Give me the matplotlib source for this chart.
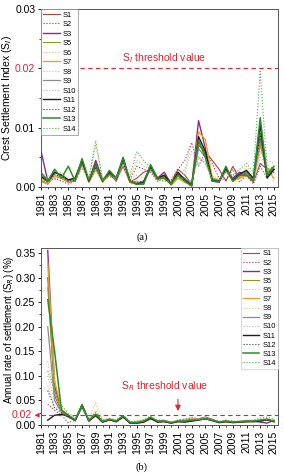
import numpy as np
import matplotlib
matplotlib.use('Agg')
import matplotlib.pyplot as plt
from matplotlib.ticker import MultipleLocator

plt.rcParams['font.family'] = ['Liberation Sans', 'DejaVu Sans']

# Data
labels = ['S1', 'S2', 'S3', 'S5', 'S6', 'S7', 'S8', 'S9', 'S10', 'S11', 'S12', 'S13', 'S14']
years_a = list(range(1981, 2016))
years_b = list(range(1982, 2016))

# crest settlement index (a)
si = {
    'S1': [0.0010, 0.0005, 0.0020, 0.0015, 0.0008, 0.0010, 0.0040, 0.0008, 0.0030, 0.0010, 0.0020, 0.0012, 0.0035, 0.0008, 0.0015, 0.0025, 0.0030, 0.0012, 0.0020, 0.0008, 0.0030, 0.0020, 0.0005, 0.0070, 0.0060, 0.0045, 0.0030, 0.0010, 0.0035, 0.0015, 0.0025, 0.0008, 0.0040, 0.0030, 0.0025],
    'S2': [0.0020, 0.0008, 0.0015, 0.0010, 0.0005, 0.0010, 0.0035, 0.0010, 0.0040, 0.0008, 0.0025, 0.0015, 0.0040, 0.0012, 0.0035, 0.0030, 0.0025, 0.0010, 0.0015, 0.0012, 0.0030, 0.0045, 0.0075, 0.0035, 0.0060, 0.0040, 0.0015, 0.0012, 0.0030, 0.0008, 0.0020, 0.0005, 0.0035, 0.0015, 0.0030],
    'S3': [0.0062, 0.0010, 0.0020, 0.0015, 0.0010, 0.0012, 0.0042, 0.0010, 0.0045, 0.0012, 0.0025, 0.0010, 0.0045, 0.0008, 0.0005, 0.0010, 0.0035, 0.0015, 0.0025, 0.0005, 0.0020, 0.0010, 0.0002, 0.0112, 0.0065, 0.0010, 0.0008, 0.0030, 0.0015, 0.0025, 0.0020, 0.0010, 0.0085, 0.0020, 0.0030],
    'S5': [0.0015, 0.0010, 0.0025, 0.0020, 0.0010, 0.0015, 0.0045, 0.0010, 0.0035, 0.0010, 0.0020, 0.0015, 0.0050, 0.0010, 0.0005, 0.0005, 0.0035, 0.0015, 0.0015, 0.0005, 0.0020, 0.0010, 0.0002, 0.0080, 0.0055, 0.0010, 0.0010, 0.0030, 0.0012, 0.0020, 0.0025, 0.0012, 0.0090, 0.0025, 0.0035],
    'S6': [0.0010, 0.0020, 0.0015, 0.0025, 0.0015, 0.0010, 0.0030, 0.0015, 0.0070, 0.0015, 0.0015, 0.0020, 0.0040, 0.0015, 0.0045, 0.0035, 0.0030, 0.0015, 0.0010, 0.0010, 0.0015, 0.0025, 0.0060, 0.0050, 0.0045, 0.0020, 0.0010, 0.0025, 0.0020, 0.0015, 0.0035, 0.0020, 0.0060, 0.0045, 0.0040],
    'S7': [0.0012, 0.0005, 0.0020, 0.0015, 0.0008, 0.0012, 0.0042, 0.0008, 0.0030, 0.0008, 0.0025, 0.0012, 0.0045, 0.0008, 0.0005, 0.0008, 0.0032, 0.0012, 0.0018, 0.0003, 0.0015, 0.0008, 0.0002, 0.0093, 0.0080, 0.0015, 0.0010, 0.0028, 0.0010, 0.0015, 0.0020, 0.0010, 0.0070, 0.0030, 0.0015],
    'S8': [0.0010, 0.0008, 0.0018, 0.0020, 0.0012, 0.0010, 0.0038, 0.0012, 0.0032, 0.0015, 0.0022, 0.0018, 0.0040, 0.0012, 0.0010, 0.0010, 0.0030, 0.0018, 0.0012, 0.0008, 0.0018, 0.0012, 0.0008, 0.0085, 0.0075, 0.0020, 0.0012, 0.0025, 0.0015, 0.0018, 0.0015, 0.0008, 0.0060, 0.0040, 0.0020],
    'S9': [0.0020, 0.0012, 0.0025, 0.0020, 0.0012, 0.0015, 0.0040, 0.0012, 0.0035, 0.0012, 0.0022, 0.0015, 0.0045, 0.0010, 0.0008, 0.0008, 0.0030, 0.0015, 0.0015, 0.0008, 0.0022, 0.0015, 0.0005, 0.0065, 0.0050, 0.0012, 0.0010, 0.0028, 0.0012, 0.0020, 0.0022, 0.0012, 0.0075, 0.0025, 0.0030],
    'S10': [0.0015, 0.0010, 0.0020, 0.0018, 0.0010, 0.0012, 0.0035, 0.0010, 0.0030, 0.0010, 0.0020, 0.0012, 0.0035, 0.0012, 0.0020, 0.0015, 0.0028, 0.0012, 0.0012, 0.0008, 0.0020, 0.0030, 0.0072, 0.0050, 0.0040, 0.0015, 0.0012, 0.0025, 0.0010, 0.0018, 0.0030, 0.0015, 0.0050, 0.0035, 0.0010],
    'S11': [0.0018, 0.0010, 0.0025, 0.0020, 0.0012, 0.0015, 0.0045, 0.0010, 0.0038, 0.0010, 0.0025, 0.0015, 0.0048, 0.0010, 0.0005, 0.0008, 0.0035, 0.0015, 0.0020, 0.0005, 0.0025, 0.0012, 0.0003, 0.0085, 0.0060, 0.0012, 0.0010, 0.0032, 0.0012, 0.0022, 0.0028, 0.0015, 0.0105, 0.0015, 0.0030],
    'S12': [0.0012, 0.0008, 0.0022, 0.0018, 0.0010, 0.0012, 0.0040, 0.0010, 0.0032, 0.0012, 0.0022, 0.0012, 0.0042, 0.0010, 0.0008, 0.0010, 0.0032, 0.0012, 0.0018, 0.0006, 0.0022, 0.0012, 0.0005, 0.0075, 0.0055, 0.0012, 0.0010, 0.0030, 0.0010, 0.0020, 0.0025, 0.0012, 0.0090, 0.0020, 0.0025],
    'S13': [0.0025, 0.0010, 0.0030, 0.0015, 0.0035, 0.0010, 0.0048, 0.0012, 0.0038, 0.0010, 0.0028, 0.0015, 0.0050, 0.0010, 0.0005, 0.0005, 0.0038, 0.0015, 0.0015, 0.0005, 0.0020, 0.0010, 0.0002, 0.0078, 0.0050, 0.0010, 0.0010, 0.0035, 0.0010, 0.0020, 0.0020, 0.0010, 0.0117, 0.0020, 0.0035],
    'S14': [0.0010, 0.0015, 0.0012, 0.0020, 0.0010, 0.0012, 0.0035, 0.0015, 0.0078, 0.0012, 0.0020, 0.0015, 0.0040, 0.0020, 0.0060, 0.0045, 0.0030, 0.0012, 0.0010, 0.0010, 0.0015, 0.0015, 0.0010, 0.0050, 0.0040, 0.0015, 0.0012, 0.0025, 0.0020, 0.0030, 0.0040, 0.0025, 0.0195, 0.0030, 0.0035],
}

# annual rate of settlement (b), 1982-2015
sr = {
    'S1': [0.300, 0.060, 0.028, 0.020, 0.008, 0.038, 0.010, 0.018, 0.006, 0.010, 0.008, 0.016, 0.006, 0.004, 0.006, 0.012, 0.008, 0.008, 0.004, 0.008, 0.010, 0.012, 0.013, 0.014, 0.010, 0.006, 0.008, 0.006, 0.006, 0.008, 0.007, 0.008, 0.010, 0.008],
    'S2': [0.042, 0.030, 0.020, 0.005, 0.010, 0.035, 0.008, 0.020, 0.005, 0.012, 0.006, 0.015, 0.004, 0.006, 0.008, 0.014, 0.006, 0.010, 0.005, 0.010, 0.012, 0.015, 0.012, 0.016, 0.012, 0.005, 0.007, 0.008, 0.005, 0.009, 0.008, 0.007, 0.012, 0.006],
    'S3': [0.355, 0.080, 0.030, 0.018, 0.010, 0.040, 0.009, 0.022, 0.007, 0.011, 0.008, 0.018, 0.005, 0.005, 0.007, 0.015, 0.007, 0.008, 0.005, 0.007, 0.008, 0.010, 0.012, 0.016, 0.011, 0.006, 0.007, 0.006, 0.007, 0.007, 0.008, 0.006, 0.004, 0.010],
    'S5': [0.280, 0.070, 0.026, 0.016, 0.010, 0.040, 0.010, 0.022, 0.008, 0.012, 0.008, 0.018, 0.005, 0.004, 0.007, 0.015, 0.008, 0.008, 0.005, 0.008, 0.007, 0.010, 0.012, 0.013, 0.010, 0.006, 0.008, 0.006, 0.007, 0.008, 0.008, 0.010, 0.010, 0.008],
    'S6': [0.100, 0.050, 0.030, 0.015, 0.012, 0.036, 0.012, 0.030, 0.010, 0.014, 0.010, 0.020, 0.006, 0.008, 0.010, 0.016, 0.010, 0.010, 0.006, 0.010, 0.012, 0.014, 0.012, 0.012, 0.010, 0.007, 0.009, 0.007, 0.008, 0.009, 0.009, 0.010, 0.012, 0.009],
    'S7': [0.330, 0.090, 0.032, 0.018, 0.009, 0.040, 0.009, 0.021, 0.006, 0.011, 0.007, 0.017, 0.004, 0.004, 0.006, 0.014, 0.007, 0.007, 0.004, 0.007, 0.007, 0.009, 0.013, 0.015, 0.010, 0.005, 0.007, 0.005, 0.006, 0.007, 0.007, 0.008, 0.012, 0.006],
    'S8': [0.130, 0.060, 0.035, 0.022, 0.012, 0.036, 0.012, 0.045, 0.010, 0.014, 0.010, 0.019, 0.006, 0.008, 0.010, 0.014, 0.009, 0.009, 0.006, 0.009, 0.010, 0.012, 0.012, 0.013, 0.011, 0.007, 0.009, 0.007, 0.008, 0.008, 0.009, 0.012, 0.013, 0.008],
    'S9': [0.200, 0.050, 0.026, 0.016, 0.010, 0.038, 0.010, 0.020, 0.007, 0.011, 0.008, 0.017, 0.005, 0.005, 0.008, 0.014, 0.008, 0.008, 0.005, 0.008, 0.008, 0.010, 0.011, 0.013, 0.010, 0.006, 0.008, 0.006, 0.007, 0.008, 0.008, 0.009, 0.011, 0.008],
    'S10': [0.080, 0.040, 0.028, 0.020, 0.012, 0.034, 0.012, 0.024, 0.009, 0.012, 0.009, 0.018, 0.006, 0.007, 0.009, 0.014, 0.009, 0.010, 0.006, 0.009, 0.012, 0.016, 0.013, 0.012, 0.010, 0.007, 0.008, 0.007, 0.008, 0.009, 0.009, 0.010, 0.011, 0.008],
    'S11': [0.010, 0.020, 0.022, 0.018, 0.010, 0.040, 0.008, 0.020, 0.006, 0.011, 0.007, 0.017, 0.004, 0.004, 0.006, 0.014, 0.006, 0.007, 0.004, 0.007, 0.006, 0.008, 0.010, 0.013, 0.009, 0.005, 0.007, 0.005, 0.006, 0.007, 0.007, 0.008, 0.011, 0.007],
    'S12': [0.070, 0.035, 0.025, 0.017, 0.010, 0.037, 0.010, 0.021, 0.007, 0.011, 0.008, 0.017, 0.005, 0.005, 0.007, 0.014, 0.007, 0.008, 0.005, 0.008, 0.008, 0.010, 0.011, 0.012, 0.010, 0.006, 0.008, 0.006, 0.007, 0.008, 0.008, 0.009, 0.010, 0.007],
    'S13': [0.255, 0.150, 0.030, 0.020, 0.010, 0.042, 0.009, 0.022, 0.007, 0.012, 0.008, 0.019, 0.005, 0.005, 0.008, 0.016, 0.008, 0.008, 0.005, 0.008, 0.008, 0.010, 0.011, 0.013, 0.010, 0.006, 0.008, 0.006, 0.007, 0.008, 0.008, 0.010, 0.012, 0.008],
    'S14': [0.110, 0.070, 0.040, 0.024, 0.014, 0.036, 0.012, 0.026, 0.010, 0.013, 0.010, 0.020, 0.007, 0.008, 0.012, 0.018, 0.010, 0.010, 0.006, 0.010, 0.009, 0.011, 0.012, 0.013, 0.011, 0.008, 0.010, 0.008, 0.008, 0.010, 0.010, 0.014, 0.016, 0.012],
}

si_threshold = 0.02
sr_threshold = 0.02

colors = ['#a8483c', '#a8305a', '#8a2c8c', '#8c9a24', '#c4c46a', '#f0a020', '#f2b868',
          '#8c8c8c', '#b4b4b4', '#1e1e1e', '#3c3c3c', '#2a8c2a', '#4cb04c']
styles = ['-', ':', '-', '-', ':', '-', ':', '-', ':', '-', ':', '-', ':']
widths = [0.8, 0.8, 1.0, 0.8, 0.8, 1.0, 0.8, 0.9, 0.8, 1.0, 0.8, 1.1, 0.8]

fs = 7.5
red = '#e8202a'

fig = plt.figure(figsize=(2.84, 4.76), dpi=100)
ax1 = fig.add_axes([0.144, 0.607, 0.835, 0.374])
ax2 = fig.add_axes([0.144, 0.107, 0.835, 0.372])

for i, s in enumerate(labels):
    ax1.plot(years_a, si[s], color=colors[i], ls=styles[i], lw=widths[i], label=s)
    ax2.plot(years_b, sr[s], color=colors[i], ls=styles[i], lw=widths[i], label=s)

# thresholds
ax1.axhline(si_threshold, color=red, ls=(0, (4, 3)), lw=0.8)
ax1.text(1999, 0.0205, 'S$_I$ threshold value', color=red, fontsize=fs,
         ha='center', va='bottom')
ax2.axhline(sr_threshold, color=red, ls=(0, (4, 3)), lw=0.8)
ax2.text(1999, 0.066, 'S$_R$ threshold value', color=red, fontsize=fs,
         ha='center', va='bottom')
ax2.annotate('', xy=(2001, 0.023), xytext=(2001, 0.058),
             arrowprops=dict(arrowstyle='-|>', color=red, lw=0.8,
                             mutation_scale=8))

for ax in (ax1, ax2):
    ax.set_xlim(1981, 2015.6)
    ax.set_xticks(list(range(1981, 2016, 2)))
    ax.xaxis.set_minor_locator(MultipleLocator(1))
    ax.tick_params(axis='x', labelrotation=90, labelsize=fs, length=2.5, width=0.6, pad=1.5)
    ax.tick_params(axis='y', labelsize=fs, length=2.5, width=0.6, pad=1.5)
    ax.tick_params(which='minor', length=1.5, width=0.5)
    for sp in ax.spines.values():
        sp.set_linewidth(0.7)
        sp.set_color('#555555')

ax1.set_ylim(0, 0.03)
ax1.set_yticks([0.00, 0.01, 0.02, 0.03])
ax1.set_yticklabels(['0.00', '0.01', '0.02', '0.03'])
ax1.yaxis.set_minor_locator(MultipleLocator(0.005))
ax1.get_yticklabels()[2].set_color(red)
ax1.set_ylabel('Crest Settlement Index (S$_I$)', fontsize=fs, labelpad=1)

ax2.set_ylim(0, 0.36)
ax2.set_yticks([0.00, 0.05, 0.10, 0.15, 0.20, 0.25, 0.30, 0.35])
ax2.set_yticklabels(['0.00', '0.05', '0.10', '0.15', '0.20', '0.25', '0.30', '0.35'])
ax2.yaxis.set_minor_locator(MultipleLocator(0.025))
ax2.set_ylabel('Annual rate of settlement (S$_R$) (%)', fontsize=7, labelpad=1)
ax2.yaxis.set_label_coords(-0.105, 0.54)
ax2.text(-0.04, sr_threshold, '0.02', color=red, fontsize=fs,
         transform=ax2.get_yaxis_transform(), ha='right', va='center')
ax2.annotate('', xy=(-0.038, sr_threshold), xytext=(0.0, sr_threshold),
             xycoords=ax2.get_yaxis_transform(), textcoords=ax2.get_yaxis_transform(),
             arrowprops=dict(arrowstyle='-|>', color=red, lw=0.7,
                             mutation_scale=6))

leg1 = ax1.legend(loc='upper left', fontsize=5.4, handlelength=2.2, labelspacing=0.3,
                  borderaxespad=0.0, borderpad=0.3, handletextpad=0.4,
                  fancybox=False, framealpha=1)
leg1.get_frame().set_linewidth(0.5)
leg1.get_frame().set_edgecolor('#888888')

leg2 = ax2.legend(loc='upper right', fontsize=5.4, handlelength=2.2, labelspacing=0.25,
                  borderaxespad=0.0, borderpad=0.3, handletextpad=0.4,
                  fancybox=False, framealpha=1)
leg2.get_frame().set_linewidth(0.5)
leg2.get_frame().set_edgecolor('#cccccc')

fig.text(0.5, 0.497, '(a)', fontsize=fs, family='Liberation Serif', ha='center')
fig.text(0.5, 0.013, '(b)', fontsize=fs, family='Liberation Serif', ha='center')

fig.savefig('out.png', dpi=100)
